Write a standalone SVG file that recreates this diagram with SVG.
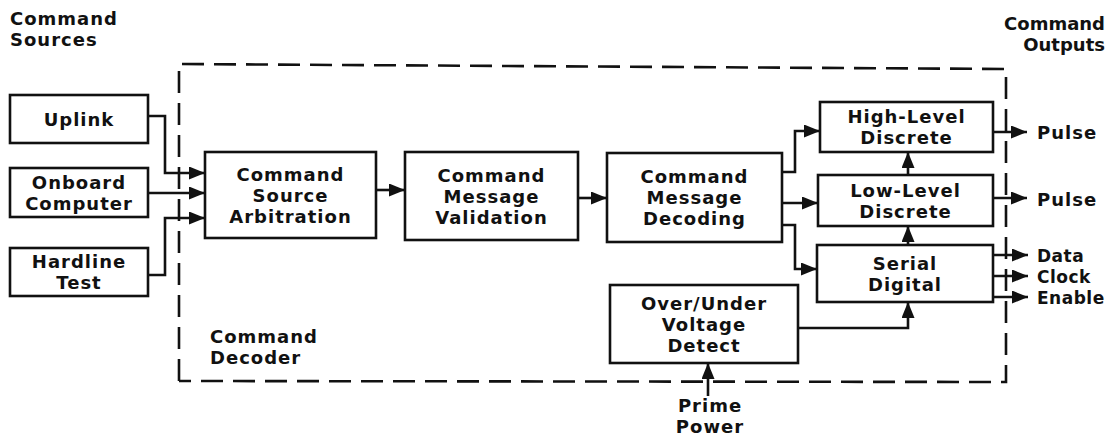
<svg xmlns="http://www.w3.org/2000/svg" width="1108" height="437" viewBox="0 0 1108 437">
<style>
.box{fill:#fff;stroke:#111;stroke-width:2.6}
.t{font-family:"DejaVu Sans","Liberation Sans",sans-serif;font-weight:bold;font-size:18px;letter-spacing:1px;fill:#111}
.s{font-size:17px;letter-spacing:0.5px}
.c{text-anchor:middle}
.w{fill:none;stroke:#111;stroke-width:2.6}
.d{fill:none;stroke:#111;stroke-width:2.6;stroke-dasharray:22 10}
</style>
<defs>
<marker id="ah" markerUnits="userSpaceOnUse" markerWidth="16" markerHeight="13" refX="16" refY="6.5" orient="auto">
<path d="M0,0 L16,6.5 L0,13 z" fill="#111"/>
</marker>
</defs>
<rect width="1108" height="437" fill="#fff"/>
<g id="decoder-boundary">
<polyline class="d" points="179,381 179,64 1006,69 1006,382 179,381"/>
<text class="t" x="210" y="343">Command</text>
<text class="t" x="210" y="364">Decoder</text>
</g>
<g id="labels">
<text class="t" x="10" y="25">Command</text>
<text class="t" x="10" y="46">Sources</text>
<text class="t" x="1105" y="30" style="text-anchor:end;letter-spacing:0">Command</text>
<text class="t" x="1105" y="51" style="text-anchor:end;letter-spacing:0">Outputs</text>
<text class="t c" x="710" y="412">Prime</text>
<text class="t c" x="710" y="433">Power</text>
<text class="t" x="1037" y="139">Pulse</text>
<text class="t" x="1037" y="206">Pulse</text>
<text class="t s" x="1037" y="262">Data</text>
<text class="t s" x="1037" y="283">Clock</text>
<text class="t s" x="1037" y="304">Enable</text>
</g>
<g id="uplink">
<rect class="box" x="10" y="95" width="138" height="48"/>
<text class="t c" x="79" y="125.5">Uplink</text>
</g>
<g id="onboard-computer">
<rect class="box" x="10" y="168" width="138" height="49"/>
<text class="t c" x="79" y="188.5">Onboard</text>
<text class="t c" x="79" y="209.5">Computer</text>
</g>
<g id="hardline-test">
<rect class="box" x="10" y="248" width="138" height="48"/>
<text class="t c" x="79" y="268">Hardline</text>
<text class="t c" x="79" y="289">Test</text>
</g>
<g id="command-source-arbitration">
<rect class="box" x="205" y="152" width="171" height="86"/>
<text class="t c" x="290.5" y="180.5">Command</text>
<text class="t c" x="290.5" y="201.5">Source</text>
<text class="t c" x="290.5" y="222.5">Arbitration</text>
</g>
<g id="command-message-validation">
<rect class="box" x="405" y="152" width="173" height="88"/>
<text class="t c" x="491.5" y="181.5">Command</text>
<text class="t c" x="491.5" y="202.5">Message</text>
<text class="t c" x="491.5" y="223.5">Validation</text>
</g>
<g id="command-message-decoding">
<rect class="box" x="607" y="153" width="175" height="89"/>
<text class="t c" x="694.5" y="183">Command</text>
<text class="t c" x="694.5" y="204">Message</text>
<text class="t c" x="694.5" y="225">Decoding</text>
</g>
<g id="high-level-discrete">
<rect class="box" x="820" y="102" width="173" height="50"/>
<text class="t c" x="906.5" y="123">High-Level</text>
<text class="t c" x="906.5" y="144">Discrete</text>
</g>
<g id="low-level-discrete">
<rect class="box" x="818" y="175" width="175" height="51"/>
<text class="t c" x="905.5" y="196.5">Low-Level</text>
<text class="t c" x="905.5" y="217.5">Discrete</text>
</g>
<g id="serial-digital">
<rect class="box" x="817" y="245" width="176" height="57"/>
<text class="t c" x="905" y="269.5">Serial</text>
<text class="t c" x="905" y="290.5">Digital</text>
</g>
<g id="over-under-voltage-detect">
<rect class="box" x="610" y="285" width="188" height="78"/>
<text class="t c" x="704" y="309.5">Over/Under</text>
<text class="t c" x="704" y="330.5">Voltage</text>
<text class="t c" x="704" y="351.5">Detect</text>
</g>
<g id="connectors">
<polyline class="w" marker-end="url(#ah)" points="148,116 165,116 165,173 205,173"/>
<polyline class="w" marker-end="url(#ah)" points="148,193 205,193"/>
<polyline class="w" marker-end="url(#ah)" points="148,275 165,275 165,218 205,218"/>
<polyline class="w" marker-end="url(#ah)" points="376,190 405,190"/>
<polyline class="w" marker-end="url(#ah)" points="578,198 607,198"/>
<polyline class="w" marker-end="url(#ah)" points="782,172 795,172 795,131 820,131"/>
<polyline class="w" marker-end="url(#ah)" points="782,203 818,203"/>
<polyline class="w" marker-end="url(#ah)" points="782,225 795,225 795,269 817,269"/>
<polyline class="w" marker-end="url(#ah)" points="908,175 908,152"/>
<polyline class="w" marker-end="url(#ah)" points="908,245 908,226"/>
<polyline class="w" marker-end="url(#ah)" points="798,328 908,328 908,302"/>
<polyline class="w" marker-end="url(#ah)" points="708,396 708,363"/>
<polyline class="w" marker-end="url(#ah)" points="993,132 1027,132"/>
<polyline class="w" marker-end="url(#ah)" points="993,198 1027,198"/>
<polyline class="w" marker-end="url(#ah)" points="993,255 1028,255"/>
<polyline class="w" marker-end="url(#ah)" points="993,276 1028,276"/>
<polyline class="w" marker-end="url(#ah)" points="993,297 1028,297"/>
</g>
</svg>
